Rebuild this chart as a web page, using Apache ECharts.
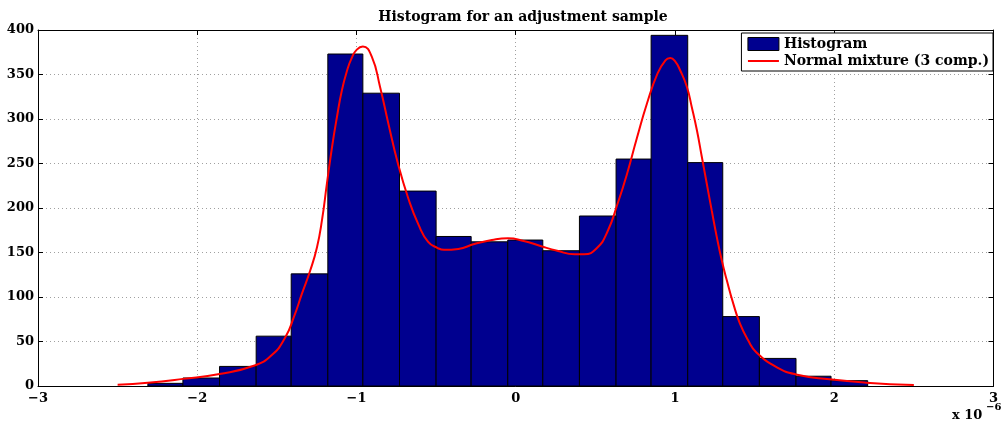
<!DOCTYPE html>
<html>
<head>
<meta charset="utf-8">
<title>Histogram for an adjustment sample</title>
<script src="https://cdn.jsdelivr.net/npm/echarts@6/dist/echarts.min.js"></script>
<style>
html, body { margin: 0; padding: 0; background: #ffffff; }
#chart { width: 1001px; height: 426px; }
</style>
</head>
<body>
<div id="chart"></div>
<script>
// x values are in units of 1e-6 (see the "x 10^-6" note on the axis)
var binEdges = [-2.31, -2.09, -1.86, -1.63, -1.41, -1.18, -0.96, -0.73, -0.50, -0.28, -0.05,
                0.17, 0.40, 0.63, 0.85, 1.08, 1.30, 1.53, 1.76, 1.98, 2.21];
var binCounts = [3, 9, 22, 56, 126, 373, 329, 219, 168, 162, 164, 152, 191, 255, 394, 251, 78, 31, 11, 6];

// fitted density
var curveX = [-2.50, -2.31, -2.09, -1.86, -1.64, -1.53, -1.446, -1.394, -1.342, -1.29, -1.248, -1.217,
              -1.186, -1.154, -1.123, -1.092, -1.06, -1.029, -0.998, -0.96, -0.904, -0.852, -0.80,
              -0.74, -0.675, -0.61, -0.55, -0.49, -0.45, -0.36, -0.26, -0.15, -0.05, 0.05, 0.16,
              0.26, 0.37, 0.43, 0.51, 0.575, 0.64, 0.70, 0.76, 0.825, 0.89, 0.94, 0.97, 1.00,
              1.033, 1.075, 1.106, 1.138, 1.169, 1.20, 1.231, 1.263, 1.294, 1.325, 1.367, 1.408,
              1.46, 1.51, 1.64, 1.76, 1.97, 2.20, 2.50];
var curveY = [1.5, 3.7, 8, 13.5, 23, 35, 55, 77, 104, 130, 156, 186,
              227, 268, 302, 332, 354, 369, 378, 381.5, 370, 336, 295,
              250, 211, 181, 162, 155, 153, 154, 159.5, 164, 166, 163, 157,
              152, 148, 148, 155, 173, 205, 239, 278, 318, 351, 366, 368.5, 365,
              354.5, 336, 313, 287, 257, 227, 197, 167, 141, 119, 92, 70,
              51, 38, 21, 13, 7.5, 3.7, 1];

var xMin = -3, xMax = 3, xStep = 1;
var yMin = 0, yMax = 400, yStep = 50;

var fontName = '"DejaVu Serif", "Liberation Serif", serif';

var histData = [];
for (var i = 0; i < binCounts.length; i++) {
  histData.push([binEdges[i], binEdges[i + 1], binCounts[i]]);
}
var curveData = [];
for (var j = 0; j < curveX.length; j++) {
  curveData.push([curveX[j], curveY[j]]);
}

var chart = echarts.init(document.getElementById('chart'));

function minusSign(v) {
  return String(v).replace('-', '\u2212');
}

var gridLine = { show: true, lineStyle: { color: '#a0a0a0', type: [1, 3], width: 1 } };
var frameLine = { show: true, onZero: false, lineStyle: { color: '#000', width: 1 } };
var tickIn = { show: true, inside: true, length: 5, lineStyle: { color: '#000' } };

var option = {
  animation: false,
  backgroundColor: '#ffffff',
  title: {
    text: 'Histogram for an adjustment sample',
    left: 518,
    textAlign: 'center',
    top: 5,
    textStyle: { fontFamily: fontName, fontWeight: 'bold', fontSize: 14, color: '#000' }
  },
  grid: { left: 38, right: 3, top: 30, bottom: 40 },
  legend: {
    orient: 'vertical',
    right: 8,
    top: 33,
    padding: [4, 4, 3, 6],
    itemGap: 3,
    itemWidth: 31,
    itemHeight: 13,
    backgroundColor: '#ffffff',
    borderColor: '#000',
    borderWidth: 1,
    textStyle: { fontFamily: fontName, fontWeight: 'bold', fontSize: 14, color: '#000' },
    data: [
      { name: 'Histogram', icon: 'rect', itemStyle: { color: '#00008f', borderColor: '#000', borderWidth: 1 } },
      { name: 'Normal mixture (3 comp.)', icon: 'path://M0,0L31,0L31,2L0,2Z', itemStyle: { color: '#ff0000' } }
    ]
  },
  xAxis: [
    {
      type: 'value', min: xMin, max: xMax, interval: xStep, position: 'bottom',
      axisLine: frameLine, axisTick: tickIn, splitLine: gridLine,
      axisLabel: {
        margin: 6, color: '#000', fontFamily: fontName, fontWeight: 'bold', fontSize: 13,
        formatter: minusSign
      }
    },
    {
      type: 'value', min: xMin, max: xMax, interval: xStep, position: 'top',
      axisLine: frameLine, axisTick: tickIn, splitLine: { show: false }, axisLabel: { show: false }
    }
  ],
  yAxis: [
    {
      type: 'value', min: yMin, max: yMax, interval: yStep, position: 'left',
      axisLine: frameLine, axisTick: tickIn, splitLine: gridLine,
      axisLabel: { margin: 4, color: '#000', fontFamily: fontName, fontWeight: 'bold', fontSize: 13 }
    },
    {
      type: 'value', min: yMin, max: yMax, interval: yStep, position: 'right',
      axisLine: frameLine, axisTick: tickIn, splitLine: { show: false }, axisLabel: { show: false }
    }
  ],
  graphic: [
    {
      type: 'text', left: 952, top: 409,
      style: { text: 'x 10', fontFamily: fontName, fontWeight: 'bold', fontSize: 13, fill: '#000' }
    },
    {
      type: 'text', left: 986, top: 402,
      style: { text: '\u22126', fontFamily: fontName, fontWeight: 'bold', fontSize: 10, fill: '#000' }
    }
  ],
  series: [
    {
      name: 'Histogram',
      type: 'custom',
      xAxisIndex: 0,
      yAxisIndex: 0,
      itemStyle: { color: '#00008f' },
      encode: { x: [0, 1], y: 2 },
      data: histData,
      renderItem: function (params, api) {
        var topLeft = api.coord([api.value(0), api.value(2)]);
        var bottomRight = api.coord([api.value(1), 0]);
        return {
          type: 'rect',
          shape: {
            x: topLeft[0],
            y: topLeft[1],
            width: bottomRight[0] - topLeft[0],
            height: bottomRight[1] - topLeft[1]
          },
          style: { fill: '#00008f', stroke: '#000', lineWidth: 1 }
        };
      }
    },
    {
      name: 'Normal mixture (3 comp.)',
      type: 'line',
      xAxisIndex: 0,
      yAxisIndex: 0,
      data: curveData,
      symbol: 'none',
      showSymbol: false,
      smooth: 0.5,
      z: 5,
      itemStyle: { color: '#ff0000' },
      lineStyle: { color: '#ff0000', width: 2 }
    }
  ]
};

chart.setOption(option);
</script>
</body>
</html>
